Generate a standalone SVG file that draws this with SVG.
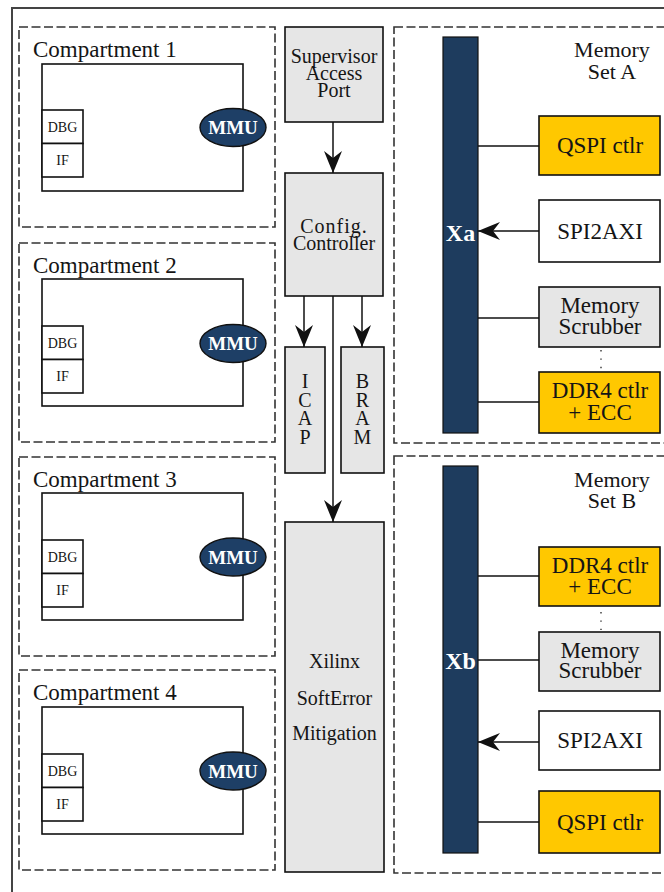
<svg xmlns="http://www.w3.org/2000/svg" width="664" height="892" viewBox="0 0 664 892">
  <style>
    .txt { font-family: "Liberation Serif", "DejaVu Serif", serif; fill: #151515; }
    .mid { text-anchor: middle; }
    .frame { fill: none; stroke: #444; stroke-width: 2; }
    .dash { fill: none; stroke: #333; stroke-width: 1.6; stroke-dasharray: 9 3.5; }
    .box { fill: #fff; stroke: #111; stroke-width: 1.6; }
    .grey { fill: #e6e6e6; stroke: #111; stroke-width: 1.6; }
    .gold { fill: #ffc800; stroke: #111; stroke-width: 1.6; }
    .bus { fill: #1e3c5e; stroke: #111; stroke-width: 1.2; }
    .mmu { fill: #1e3f66; stroke: #111; stroke-width: 1.4; }
    .wtxt { font-family: "Liberation Serif", "DejaVu Serif", serif; font-weight: bold; fill: #fff; text-anchor: middle; }
    .wire { fill: none; stroke: #111; stroke-width: 1.5; }
    .dots { fill: none; stroke: #333; stroke-width: 1.4; stroke-dasharray: 1.4 7; }
    .comp-label { font-size: 23px; }
    .small { font-size: 14px; }
    .ctr { font-size: 20px; }
    .big { font-size: 23px; }
  </style>
  <defs>
    <marker id="stealth" viewBox="0 0 22 18" refX="22" refY="9" markerWidth="22" markerHeight="18" markerUnits="userSpaceOnUse" orient="auto">
      <path d="M22,9 Q10,4 0,0 L7,9 L0,18 Q10,14 22,9 Z" fill="#111"/>
    </marker>
  </defs>

  <!-- outer frame (open at right and bottom) -->
  <rect class="frame" x="12" y="8" width="700" height="900"/>

  <!-- compartments -->
  <g id="compartment1" transform="translate(0,27)">
    <rect class="dash" x="19" y="0" width="256" height="200"/>
    <text class="txt comp-label" x="33" y="30">Compartment 1</text>
    <rect class="box" x="42" y="37" width="201" height="127"/>
    <rect class="box" x="42" y="83" width="41" height="33.5"/>
    <rect class="box" x="42" y="116.5" width="41" height="33.5"/>
    <text class="txt small mid" x="62.5" y="104.5">DBG</text>
    <text class="txt small mid" x="62.5" y="138">IF</text>
    <ellipse class="mmu" cx="233" cy="100.5" rx="33" ry="19"/>
    <text class="wtxt" x="233" y="107" font-size="19">MMU</text>
  </g>
  <g id="compartment2" transform="translate(0,243)">
    <rect class="dash" x="19" y="0" width="256" height="199"/>
    <text class="txt comp-label" x="33" y="30">Compartment 2</text>
    <rect class="box" x="42" y="36" width="201" height="127"/>
    <rect class="box" x="42" y="83" width="41" height="33.5"/>
    <rect class="box" x="42" y="116.5" width="41" height="33.5"/>
    <text class="txt small mid" x="62.5" y="104.5">DBG</text>
    <text class="txt small mid" x="62.5" y="138">IF</text>
    <ellipse class="mmu" cx="233" cy="100.5" rx="33" ry="19"/>
    <text class="wtxt" x="233" y="107" font-size="19">MMU</text>
  </g>
  <g id="compartment3" transform="translate(0,457)">
    <rect class="dash" x="19" y="0" width="256" height="199"/>
    <text class="txt comp-label" x="33" y="30">Compartment 3</text>
    <rect class="box" x="42" y="36" width="201" height="127"/>
    <rect class="box" x="42" y="83" width="41" height="33.5"/>
    <rect class="box" x="42" y="116.5" width="41" height="33.5"/>
    <text class="txt small mid" x="62.5" y="104.5">DBG</text>
    <text class="txt small mid" x="62.5" y="138">IF</text>
    <ellipse class="mmu" cx="233" cy="100" rx="33" ry="19"/>
    <text class="wtxt" x="233" y="106.5" font-size="19">MMU</text>
  </g>
  <g id="compartment4" transform="translate(0,670)">
    <rect class="dash" x="19" y="0" width="256" height="200"/>
    <text class="txt comp-label" x="33" y="30">Compartment 4</text>
    <rect class="box" x="42" y="37" width="201" height="127"/>
    <rect class="box" x="42" y="84" width="41" height="33.5"/>
    <rect class="box" x="42" y="117.5" width="41" height="33.5"/>
    <text class="txt small mid" x="62.5" y="105.5">DBG</text>
    <text class="txt small mid" x="62.5" y="139">IF</text>
    <ellipse class="mmu" cx="233" cy="101" rx="33" ry="19"/>
    <text class="wtxt" x="233" y="107.5" font-size="19">MMU</text>
  </g>

  <!-- central column -->
  <g id="supervisor-port">
    <rect class="grey" x="285" y="27" width="98" height="95"/>
    <text class="txt ctr mid" x="334" y="63">Supervisor<tspan x="334" dy="17">Access</tspan><tspan x="334" dy="17">Port</tspan></text>
  </g>
  <g id="config-controller">
    <rect class="grey" x="285" y="173" width="98" height="123"/>
    <text class="txt ctr mid" x="334" y="233"><tspan letter-spacing="1">Config.</tspan><tspan x="334" dy="17">Controller</tspan></text>
  </g>
  <g id="icap">
    <rect class="grey" x="285" y="347" width="40" height="126"/>
    <text class="txt ctr mid" x="305" y="388">I<tspan x="305" dy="18.5">C</tspan><tspan x="305" dy="18.5">A</tspan><tspan x="305" dy="18.5">P</tspan></text>
  </g>
  <g id="bram">
    <rect class="grey" x="341" y="347" width="43" height="126"/>
    <text class="txt ctr mid" x="362.5" y="388">B<tspan x="362.5" dy="18.5">R</tspan><tspan x="362.5" dy="18.5">A</tspan><tspan x="362.5" dy="18.5">M</tspan></text>
  </g>
  <g id="sem">
    <rect class="grey" x="285" y="522" width="99" height="350"/>
    <text class="txt ctr mid" x="334.5" y="668">Xilinx</text>
    <text class="txt ctr mid" x="334.5" y="705">SoftError</text>
    <text class="txt ctr mid" x="334.5" y="740">Mitigation</text>
  </g>

  <!-- memory set A -->
  <g id="memory-set-a">
    <rect class="dash" x="394" y="27" width="300" height="416"/>
    <text class="txt mid" x="612" y="57" font-size="22">Memory<tspan x="612" dy="22">Set A</tspan></text>
  </g>
  <g id="xa">
    <rect class="bus" x="443" y="37" width="35" height="396"/>
    <text class="wtxt" x="460.5" y="241" font-size="24">Xa</text>
  </g>
  <g id="qspi-a">
    <rect class="gold" x="539" y="116" width="121" height="59"/>
    <text class="txt big mid" x="600" y="153">QSPI ctlr</text>
  </g>
  <g id="spi2axi-a">
    <rect class="box" x="539" y="200" width="121" height="62"/>
    <text class="txt big mid" x="600" y="239">SPI2AXI</text>
  </g>
  <g id="scrubber-a">
    <rect class="grey" x="539" y="287" width="121" height="60"/>
    <text class="txt big mid" x="600" y="313">Memory<tspan x="600" dy="21">Scrubber</tspan></text>
  </g>
  <g id="ddr4-a">
    <rect class="gold" x="539" y="372" width="121" height="61"/>
    <text class="txt big mid" x="600" y="398">DDR4 ctlr<tspan x="600" dy="22">+ ECC</tspan></text>
  </g>

  <!-- memory set B -->
  <g id="memory-set-b">
    <rect class="dash" x="394" y="456" width="300" height="417"/>
    <text class="txt mid" x="612" y="487" font-size="22">Memory<tspan x="612" dy="21">Set B</tspan></text>
  </g>
  <g id="xb">
    <rect class="bus" x="443" y="466" width="35" height="387"/>
    <text class="wtxt" x="460.5" y="669" font-size="24">Xb</text>
  </g>
  <g id="ddr4-b">
    <rect class="gold" x="539" y="547" width="121" height="59"/>
    <text class="txt big mid" x="600" y="573">DDR4 ctlr<tspan x="600" dy="21">+ ECC</tspan></text>
  </g>
  <g id="scrubber-b">
    <rect class="grey" x="539" y="632" width="121" height="59"/>
    <text class="txt big mid" x="600" y="658">Memory<tspan x="600" dy="20">Scrubber</tspan></text>
  </g>
  <g id="spi2axi-b">
    <rect class="box" x="539" y="711" width="121" height="59"/>
    <text class="txt big mid" x="600" y="748">SPI2AXI</text>
  </g>
  <g id="qspi-b">
    <rect class="gold" x="539" y="791" width="121" height="62"/>
    <text class="txt big mid" x="600" y="830">QSPI ctlr</text>
  </g>

  <!-- connectors -->
  <g id="connectors">
    <line class="wire" x1="333" y1="122" x2="333" y2="173" marker-end="url(#stealth)"/>
    <line class="wire" x1="304" y1="296" x2="304" y2="347" marker-end="url(#stealth)"/>
    <line class="wire" x1="362" y1="296" x2="362" y2="347" marker-end="url(#stealth)"/>
    <line class="wire" x1="333" y1="296" x2="333" y2="522" marker-end="url(#stealth)"/>

    <line class="wire" x1="478" y1="146" x2="539" y2="146"/>
    <line class="wire" x1="539" y1="231" x2="478" y2="231" marker-end="url(#stealth)"/>
    <line class="wire" x1="478" y1="318" x2="539" y2="318"/>
    <line class="wire" x1="478" y1="402" x2="539" y2="402"/>
    <line class="dots" x1="601" y1="350" x2="601" y2="370"/>

    <line class="wire" x1="478" y1="576" x2="539" y2="576"/>
    <line class="dots" x1="601" y1="612" x2="601" y2="630"/>
    <line class="wire" x1="478" y1="660" x2="500" y2="660" stroke="#888"/>
    <line class="wire" x1="500" y1="660" x2="539" y2="660"/>
    <line class="wire" x1="539" y1="742" x2="478" y2="742" marker-end="url(#stealth)"/>
    <line class="wire" x1="478" y1="822" x2="539" y2="822" stroke="#666"/>
  </g>
</svg>
